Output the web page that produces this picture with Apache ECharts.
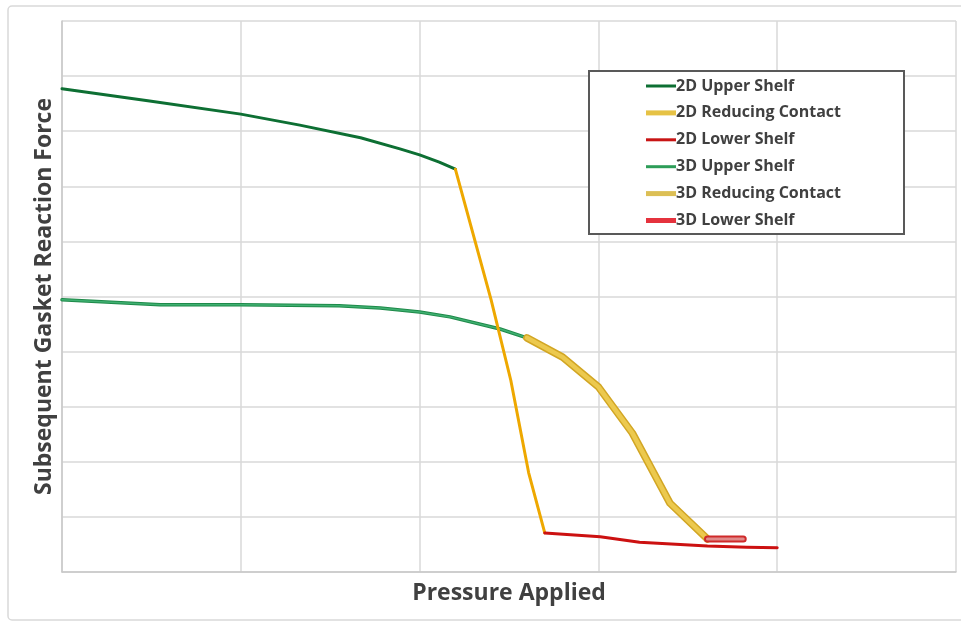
<!DOCTYPE html>
<html>
<head>
<meta charset="utf-8">
<script src="https://cdn.jsdelivr.net/npm/echarts@6/dist/echarts.min.js"></script>
<style>
  html, body { margin: 0; padding: 0; background: #ffffff; }
  #chart { width: 961px; height: 623px; }
</style>
</head>
<body>
<div id="chart"></div>
<script>
// Series values as [pressure, force] pairs (arbitrary units, axes unlabeled)
const upper2D = [[0, 8.77], [0.49, 8.55], [1.00, 8.31], [1.33, 8.11], [1.67, 7.88], [1.89, 7.68], [2.00, 7.57], [2.11, 7.44], [2.20, 7.31]];
const reducing2D = [[2.20, 7.31], [2.40, 4.94], [2.51, 3.48], [2.61, 1.80], [2.70, 0.71]];
const lower2D = [[2.70, 0.71], [3.01, 0.64], [3.23, 0.54], [3.61, 0.47], [3.83, 0.45], [4.00, 0.44]];
const upper3D = [[0, 4.94], [0.55, 4.85], [1.00, 4.85], [1.55, 4.83], [1.78, 4.79], [2.00, 4.72], [2.17, 4.63], [2.45, 4.41], [2.60, 4.25]];
const reducing3D = [[2.60, 4.25], [2.80, 3.90], [3.00, 3.36], [3.19, 2.52], [3.40, 1.25], [3.61, 0.60]];
const lower3D = [[3.61, 0.60], [3.81, 0.60]];

const seriesNames = ['2D Upper Shelf', '2D Reducing Contact', '2D Lower Shelf', '3D Upper Shelf', '3D Reducing Contact', '3D Lower Shelf'];

const chart = echarts.init(document.getElementById('chart'));

function line(name, data, color, width, z) {
  return {
    name: name, type: 'line', data: data, symbol: 'none', smooth: false,
    lineStyle: { color: color, width: width, cap: 'round', join: 'round' },
    itemStyle: { color: color },
    z: z, silent: true, animation: false
  };
}

// legend swatches: short horizontal bars of a given thickness
const thinBar = 'path://M0,0 L30,0 L30,3 L0,3 Z';
const thickBar = 'path://M0,0 L30,0 L30,5 L0,5 Z';

const textColor = '#404040';
const fontFam = '"Open Sans", "DejaVu Sans", sans-serif';

chart.setOption({
  backgroundColor: '#ffffff',
  animation: false,
  grid: { left: 62, right: 5, top: 21, bottom: 51, containLabel: false },
  xAxis: {
    type: 'value', min: 0, max: 5, interval: 1,
    name: 'Pressure Applied', nameLocation: 'middle', nameGap: 10,
    nameTextStyle: { color: textColor, fontSize: 23, fontWeight: 'bold', fontFamily: fontFam },
    axisLine: { show: true, lineStyle: { color: '#c8c8c8', width: 1.5 } },
    axisTick: { show: false },
    axisLabel: { show: false },
    splitLine: { show: true, lineStyle: { color: '#d9d9d9', width: 1.5 } }
  },
  yAxis: {
    type: 'value', min: 0, max: 10, interval: 1,
    name: 'Subsequent Gasket Reaction Force', nameLocation: 'middle', nameGap: 6,
    nameTextStyle: { color: textColor, fontSize: 23, fontWeight: 'bold', fontFamily: fontFam },
    axisLine: { show: true, lineStyle: { color: '#c8c8c8', width: 1.5 } },
    axisTick: { show: false },
    axisLabel: { show: false },
    splitLine: { show: true, lineStyle: { color: '#d9d9d9', width: 1.5 } }
  },
  legend: {
    orient: 'vertical', left: 646, top: 78, z: 10,
    itemWidth: 30, itemHeight: 16, itemGap: 10.9,
    padding: 0, selectedMode: false,
    textStyle: { color: textColor, fontSize: 16, fontWeight: 'bold', fontFamily: fontFam, padding: [0, 0, 0, -5] },
    data: [
      { name: seriesNames[0], icon: thinBar, itemStyle: { color: '#0d6f33' } },
      { name: seriesNames[1], icon: thickBar, itemStyle: { color: '#e6c245' } },
      { name: seriesNames[2], icon: thinBar, itemStyle: { color: '#c81414' } },
      { name: seriesNames[3], icon: thinBar, itemStyle: { color: '#2d9d58' } },
      { name: seriesNames[4], icon: thickBar, itemStyle: { color: '#dcbf55' } },
      { name: seriesNames[5], icon: thickBar, itemStyle: { color: '#e5323d' } }
    ]
  },
  graphic: [
    { type: 'rect', shape: { x: 8, y: 6, width: 962, height: 614, r: 4 },
      style: { fill: 'none', stroke: '#d9d9d9', lineWidth: 1.5 }, silent: true, z: 0 },
    { type: 'rect', shape: { x: 589, y: 71, width: 315, height: 163 },
      style: { fill: '#ffffff', stroke: '#595959', lineWidth: 2 }, silent: true, z: 5 }
  ],
  series: [
    line(seriesNames[0], upper2D, '#0d6f33', 3, 4),
    line(seriesNames[1], reducing2D, '#eea800', 3, 4),
    line(seriesNames[2], lower2D, '#cc1111', 3, 4),
    // 3D curves: outlined strokes (dark edge beneath a lighter core)
    line('3D Upper Shelf edge', upper3D, '#1f8a4a', 3.5, 3),
    line(seriesNames[3], upper3D, '#3fb071', 1.5, 3),
    line('3D Reducing Contact edge', reducing3D, '#d2a624', 7.5, 3),
    line(seriesNames[4], reducing3D, '#ecc94e', 4.5, 3),
    line('3D Lower Shelf edge', lower3D, '#cf2a2a', 7, 3),
    line(seriesNames[5], lower3D, '#e08a8a', 3, 3)
  ]
});
</script>
</body>
</html>
